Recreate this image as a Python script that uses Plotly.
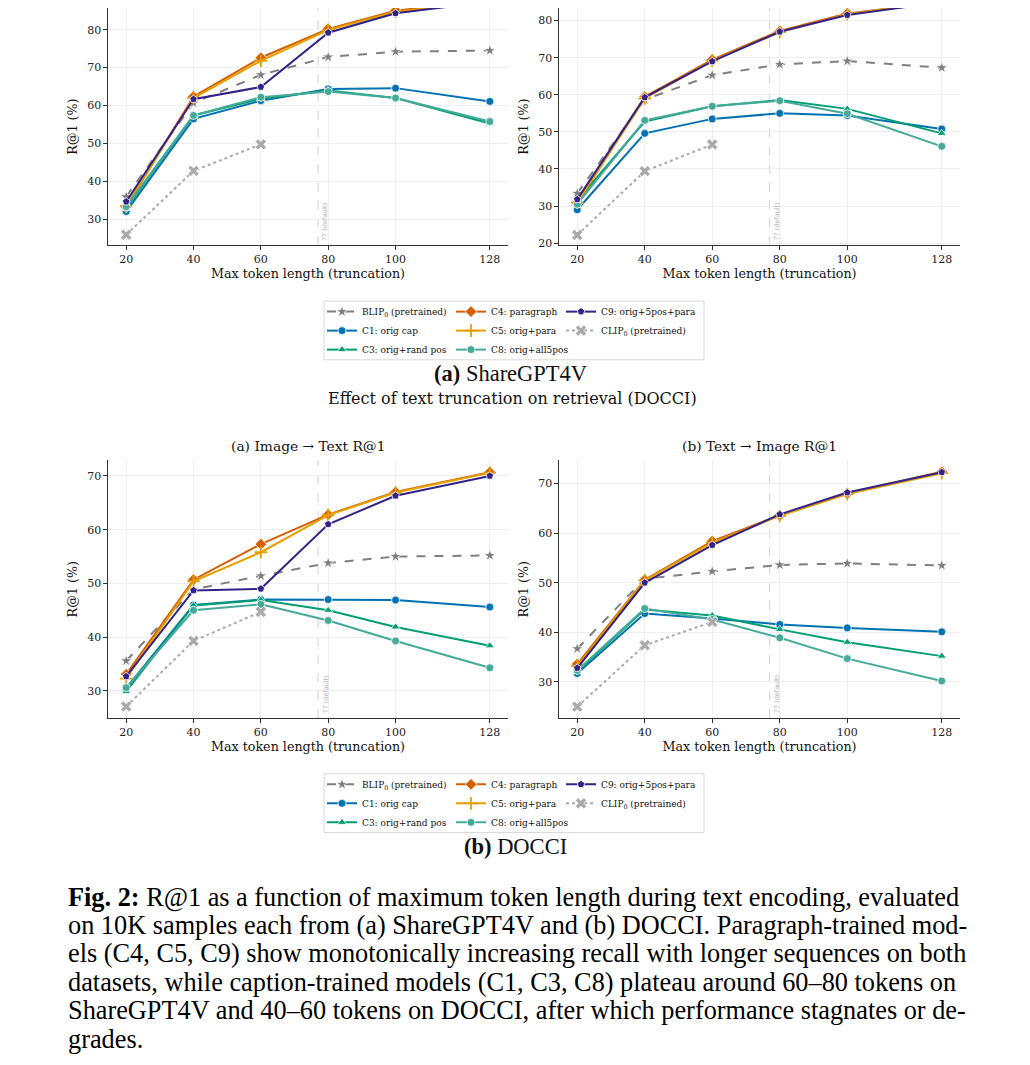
import plotly.graph_objects as go

# the page body keeps a small margin round the figure
PAD_X, PAD_Y = 8, 4.5
W, H = 1030 - 16, 1065 - 16

TOKEN_LEN = [20, 40, 60, 80, 100, 128]
CLIP_LEN = [20, 40, 60]
DEFAULT_LEN = 77

# ShareGPT4V, image -> text
sg_i2t_blip = [36.0, 60.7, 68.1, 72.8, 74.2, 74.5]
sg_i2t_c1 = [32.1, 56.5, 61.3, 64.4, 64.6, 61.1]
sg_i2t_c3 = [33.0, 57.4, 61.8, 64.0, 62.0, 55.3]
sg_i2t_c4 = [33.3, 62.4, 72.6, 80.2, 85.0, 87.8]
sg_i2t_c5 = [33.6, 62.0, 71.8, 79.9, 84.7, 87.6]
sg_i2t_c8 = [33.4, 57.4, 62.2, 63.7, 62.0, 55.8]
sg_i2t_c9 = [34.7, 61.7, 64.9, 79.2, 84.3, 87.4]
sg_i2t_clip = [26.0, 42.8, 49.8]

# ShareGPT4V, text -> image
sg_t2i_blip = [33.4, 58.7, 65.3, 68.2, 69.1, 67.3]
sg_t2i_c1 = [29.0, 49.6, 53.5, 55.0, 54.4, 50.8]
sg_t2i_c3 = [31.5, 52.8, 56.9, 58.6, 56.2, 49.6]
sg_t2i_c4 = [30.8, 59.5, 69.5, 77.2, 81.9, 85.0]
sg_t2i_c5 = [31.0, 59.0, 69.2, 76.9, 81.7, 85.2]
sg_t2i_c8 = [30.5, 53.1, 56.9, 58.4, 54.9, 46.1]
sg_t2i_c9 = [31.8, 59.3, 69.0, 77.0, 81.5, 85.0]
sg_t2i_clip = [22.2, 39.4, 46.6]

# DOCCI, image -> text
dc_i2t_blip = [35.6, 48.9, 51.4, 53.8, 55.0, 55.2]
dc_i2t_c1 = [30.5, 46.0, 47.0, 47.0, 46.9, 45.6]
dc_i2t_c3 = [29.9, 45.9, 46.9, 45.0, 41.9, 38.4]
dc_i2t_c4 = [33.1, 50.7, 57.3, 62.8, 67.0, 70.7]
dc_i2t_c5 = [32.3, 50.4, 55.8, 62.7, 66.9, 70.6]
dc_i2t_c8 = [30.6, 45.0, 46.1, 43.1, 39.3, 34.3]
dc_i2t_c9 = [32.7, 48.7, 49.0, 61.0, 66.3, 70.0]
dc_i2t_clip = [27.1, 39.3, 44.7]

# DOCCI, text -> image
dc_t2i_blip = [36.7, 50.8, 52.3, 53.6, 53.9, 53.5]
dc_t2i_c1 = [31.7, 43.8, 42.8, 41.6, 40.9, 40.1]
dc_t2i_c3 = [32.1, 44.6, 43.4, 40.6, 38.0, 35.2]
dc_t2i_c4 = [33.6, 50.6, 58.4, 63.6, 68.0, 72.4]
dc_t2i_c5 = [33.2, 50.5, 58.1, 63.5, 67.9, 72.1]
dc_t2i_c8 = [32.3, 44.8, 42.6, 38.9, 34.7, 30.2]
dc_t2i_c9 = [32.8, 50.0, 57.6, 63.8, 68.2, 72.3]
dc_t2i_clip = [25.0, 37.4, 42.1]

SERIES_KEYS = ['blip', 'c1', 'c3', 'c4', 'c5', 'c8', 'c9', 'clip']
SERIES_LABELS = {
    'blip': 'BLIP<sub>0</sub> (pretrained)',
    'c1': 'C1: orig cap',
    'c3': 'C3: orig+rand pos',
    'c4': 'C4: paragraph',
    'c5': 'C5: orig+para',
    'c8': 'C8: orig+all5pos',
    'c9': 'C9: orig+5pos+para',
    'clip': 'CLIP<sub>0</sub> (pretrained)',
}
STYLE = {
    'blip': dict(color='#7f7f7f', symbol='star', size=9, dash='dash'),
    'c1': dict(color='#0072B2', symbol='circle', size=8, dash='solid'),
    'c3': dict(color='#009E73', symbol='triangle-up', size=8, dash='solid'),
    'c4': dict(color='#D55E00', symbol='diamond', size=9, dash='solid'),
    'c5': dict(color='#E69F00', symbol='cross-thin', size=9, dash='solid'),
    'c8': dict(color='#44AA99', symbol='circle', size=8, dash='solid'),
    'c9': dict(color='#332288', symbol='pentagon', size=8, dash='solid'),
    'clip': dict(color='#aaaaaa', symbol='x', size=10, dash='dot'),
}
LEGEND_COL = {'blip': 0, 'c1': 0, 'c3': 0, 'c4': 1, 'c5': 1, 'c8': 1, 'c9': 2, 'clip': 2}

panels = [
    dict(data=[sg_i2t_blip, sg_i2t_c1, sg_i2t_c3, sg_i2t_c4, sg_i2t_c5, sg_i2t_c8, sg_i2t_c9, sg_i2t_clip],
         box=(108, 508, PAD_Y, 243), yr=[23.2, 85.7], ticks=[30, 40, 50, 60, 70, 80], legends=['legend', 'legend2', 'legend3']),
    dict(data=[sg_t2i_blip, sg_t2i_c1, sg_t2i_c3, sg_t2i_c4, sg_t2i_c5, sg_t2i_c8, sg_t2i_c9, sg_t2i_clip],
         box=(559, 960, PAD_Y, 243), yr=[19.4, 83.4], ticks=[20, 30, 40, 50, 60, 70, 80], legends=None),
    dict(data=[dc_i2t_blip, dc_i2t_c1, dc_i2t_c3, dc_i2t_c4, dc_i2t_c5, dc_i2t_c8, dc_i2t_c9, dc_i2t_clip],
         box=(108, 508, 459, 718), yr=[24.94, 72.9], ticks=[30, 40, 50, 60, 70], legends=['legend4', 'legend5', 'legend6'],
         title='(a) Image → Text R@1'),
    dict(data=[dc_t2i_blip, dc_t2i_c1, dc_t2i_c3, dc_t2i_c4, dc_t2i_c5, dc_t2i_c8, dc_t2i_c9, dc_t2i_clip],
         box=(559, 960, 459, 718), yr=[22.7, 74.7], ticks=[30, 40, 50, 60, 70], legends=None,
         title='(b) Text → Image R@1'),
]

FONT = 'DejaVu Serif'
TEX = 'Liberation Serif'


def px_x(p):
    return (p - PAD_X) / W


def px_y(p):
    return 1 - (p - PAD_Y) / H


fig = go.Figure()
annotations = []
shapes = []
layout = {}

for i, pnl in enumerate(panels):
    n = '' if i == 0 else str(i + 1)
    xa, ya = 'x' + n, 'y' + n
    x0, x1, y0, y1 = pnl['box']
    for key, vals in zip(SERIES_KEYS, pnl['data']):
        st = STYLE[key]
        xs = CLIP_LEN if key == 'clip' else TOKEN_LEN
        if key == 'c5':
            mline = dict(color=st['color'], width=1.8)
        else:
            mline = dict(color='white', width=0.8)
        tr = dict(
            x=xs, y=vals, mode='lines+markers', name=SERIES_LABELS[key],
            xaxis=xa, yaxis=ya,
            line=dict(color=st['color'], width=2, dash=st['dash']),
            marker=dict(symbol=st['symbol'], size=st['size'], color=st['color'], line=mline),
        )
        if pnl['legends']:
            tr['legend'] = pnl['legends'][LEGEND_COL[key]]
            tr['showlegend'] = True
        else:
            tr['showlegend'] = False
        fig.add_trace(go.Scatter(**tr))

    layout['xaxis' + n] = dict(
        domain=[px_x(x0), px_x(x1)], anchor=ya, range=[14.6, 133.4],
        tickvals=TOKEN_LEN, ticks='outside', ticklen=3.5, tickcolor='#333',
        showline=True, linecolor='#333', linewidth=1.2, mirror=False,
        showgrid=True, gridcolor='#efefef', gridwidth=0.8, zeroline=False,
        tickfont=dict(family=FONT, size=11, color='#222'),
        title=dict(text='Max token length (truncation)', font=dict(family=FONT, size=12.7, color='#111'), standoff=3),
    )
    layout['yaxis' + n] = dict(
        domain=[px_y(y1), min(1.0, px_y(y0))], anchor=xa, range=pnl['yr'],
        tickvals=pnl['ticks'], ticks='outside', ticklen=3.5, tickcolor='#333',
        showline=True, linecolor='#333', linewidth=1.2,
        showgrid=True, gridcolor='#efefef', gridwidth=0.8, zeroline=False,
        tickfont=dict(family=FONT, size=11, color='#222'),
        title=dict(text='R@1 (%)', font=dict(family=FONT, size=12.7, color='#111'), standoff=6),
    )
    shapes.append(dict(type='line', xref=xa, yref=ya + ' domain', x0=DEFAULT_LEN, x1=DEFAULT_LEN, y0=0, y1=1,
                       line=dict(color='#cccccc', width=0.9, dash='dash'), layer='below'))
    annotations.append(dict(text='77 (default)', xref=xa, yref=ya + ' domain', x=DEFAULT_LEN, y=0.01,
                            xanchor='left', yanchor='bottom', xshift=1, textangle=-90, showarrow=False,
                            font=dict(family='DejaVu Sans', size=6.5, color='#b5b5b5')))
    if 'title' in pnl:
        annotations.append(dict(text=pnl['title'], xref='paper', yref='paper', x=px_x((x0 + x1) / 2), y=px_y(445),
                                xanchor='center', yanchor='middle', showarrow=False,
                                font=dict(family=FONT, size=13.8, color='#111')))

# legends: three columns per figure, framed by one box
LEG_X = [322, 451, 561]
LEG_TOP = [295, 770]
for j, name in enumerate(['legend', 'legend2', 'legend3', 'legend4', 'legend5', 'legend6']):
    layout[name] = dict(x=px_x(LEG_X[j % 3]), y=px_y(LEG_TOP[j // 3]), xanchor='left', yanchor='top',
                        bgcolor='rgba(0,0,0,0)', borderwidth=0, tracegroupgap=0, itemwidth=30,
                        font=dict(family=FONT, size=9, color='#111'))
for top in LEG_TOP:
    shapes.append(dict(type='rect', xref='paper', yref='paper', x0=px_x(324), x1=px_x(704),
                       y0=px_y(top + 63), y1=px_y(top + 4), line=dict(color='#d4d4d4', width=0.9)))

annotations += [
    dict(text='<b>(a)</b> ShareGPT4V', x=px_x(510), y=px_y(372)),
    dict(text='<b>(b)</b> DOCCI', x=px_x(515), y=px_y(847)),
]
for a in annotations[-2:]:
    a.update(xref='paper', yref='paper', xanchor='center', yanchor='middle', showarrow=False,
             font=dict(family=TEX, size=22.5, color='#111'))
annotations.append(dict(text='Effect of text truncation on retrieval (DOCCI)', xref='paper', yref='paper',
                        x=px_x(512), y=px_y(397), xanchor='center', yanchor='middle', showarrow=False,
                        font=dict(family=FONT, size=16, color='#111')))

caption = [
    '<b>Fig. 2:</b> R@1 as a function of maximum token length during text encoding, evaluated',
    'on 10K samples each from (a) ShareGPT4V and (b) DOCCI. Paragraph-trained mod-',
    'els (C4, C5, C9) show monotonically increasing recall with longer sequences on both',
    'datasets, while caption-trained models (C1, C3, C8) plateau around 60–80 tokens on',
    'ShareGPT4V and 40–60 tokens on DOCCI, after which performance stagnates or de-',
    'grades.',
]
for k, line in enumerate(caption):
    annotations.append(dict(text=line, xref='paper', yref='paper', x=px_x(66), y=px_y(898 + 28.5 * k),
                            xanchor='left', yanchor='middle', showarrow=False,
                            font=dict(family=TEX, size=26.3, color='#000')))

fig.update_layout(
    width=W, height=H, margin=dict(l=0, r=0, t=0, b=0),
    plot_bgcolor='white', paper_bgcolor='white',
    annotations=annotations, shapes=shapes, **layout,
)

fig.write_html("out.html")
